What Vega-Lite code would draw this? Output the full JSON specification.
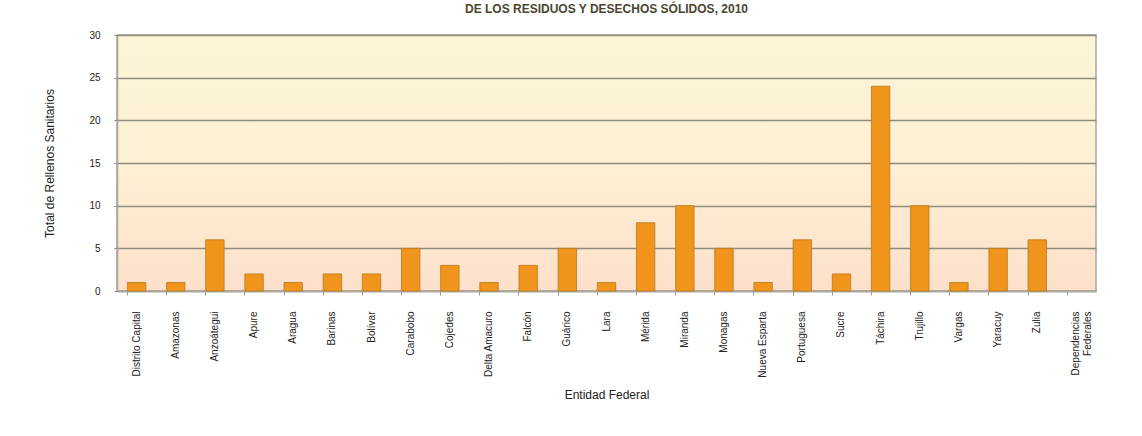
{
  "$schema": "https://vega.github.io/schema/vega-lite/v6.json",
  "width": 979,
  "height": 256,
  "autosize": {"type": "none"},
  "padding": {"left": 117, "top": 35, "right": 46, "bottom": 145},
  "background": "#ffffff",
  "title": {
    "text": "DE LOS RESIDUOS Y DESECHOS SÓLIDOS, 2010",
    "font": "Liberation Sans",
    "fontSize": 12,
    "fontWeight": "bold",
    "color": "#4a4630",
    "anchor": "middle",
    "offset": 14
  },
  "config": {
    "view": {
      "stroke": "#a9a79c",
      "strokeWidth": 1.5,
      "fill": {
        "gradient": "linear",
        "x1": 0, "y1": 0, "x2": 0, "y2": 1,
        "stops": [
          {"offset": 0, "color": "#fcf4d6"},
          {"offset": 0.5, "color": "#fdf0d4"},
          {"offset": 1, "color": "#fde0cb"}
        ]
      }
    },
    "axis": {
      "labelFont": "Liberation Sans",
      "titleFont": "Liberation Sans",
      "labelColor": "#222222",
      "titleColor": "#222222",
      "titleFontWeight": "normal"
    }
  },
  "data": {
    "values": [
      {"entidad": "Distrito Capital", "total": 1},
      {"entidad": "Amazonas", "total": 1},
      {"entidad": "Anzoátegui", "total": 6},
      {"entidad": "Apure", "total": 2},
      {"entidad": "Aragua", "total": 1},
      {"entidad": "Barinas", "total": 2},
      {"entidad": "Bolívar", "total": 2},
      {"entidad": "Carabobo", "total": 5},
      {"entidad": "Cojedes", "total": 3},
      {"entidad": "Delta Amacuro", "total": 1},
      {"entidad": "Falcón", "total": 3},
      {"entidad": "Guárico", "total": 5},
      {"entidad": "Lara", "total": 1},
      {"entidad": "Mérida", "total": 8},
      {"entidad": "Miranda", "total": 10},
      {"entidad": "Monagas", "total": 5},
      {"entidad": "Nueva Esparta", "total": 1},
      {"entidad": "Portuguesa", "total": 6},
      {"entidad": "Sucre", "total": 2},
      {"entidad": "Táchira", "total": 24},
      {"entidad": "Trujillo", "total": 10},
      {"entidad": "Vargas", "total": 1},
      {"entidad": "Yaracuy", "total": 5},
      {"entidad": "Zulia", "total": 6},
      {"entidad": "Dependencias Federales", "total": 0}
    ]
  },
  "mark": {
    "type": "bar",
    "color": "#f0941c",
    "stroke": "#b8781a",
    "strokeWidth": 0.8
  },
  "encoding": {
    "x": {
      "field": "entidad",
      "type": "nominal",
      "sort": null,
      "scale": {"paddingInner": 0.53, "paddingOuter": 0.265},
      "axis": {
        "title": "Entidad Federal",
        "titleFontSize": 12,
        "titlePadding": 12,
        "labelAngle": 270,
        "labelFontSize": 10,
        "labelPadding": 16,
        "labelExpr": "datum.label == 'Dependencias Federales' ? ['Dependencias', 'Federales'] : datum.label",
        "bandPosition": 0,
        "tickSize": 4,
        "tickColor": "#9a9a90",
        "domainColor": "#a9a79c",
        "domainWidth": 1.5,
        "labelLimit": 200
      }
    },
    "y": {
      "field": "total",
      "type": "quantitative",
      "scale": {"domain": [0, 30]},
      "axis": {
        "title": "Total de Rellenos Sanitarios",
        "titleFontSize": 12,
        "titlePadding": 32,
        "values": [0, 5, 10, 15, 20, 25, 30],
        "labelFontSize": 10,
        "labelPadding": 14,
        "tickSize": 3,
        "tickColor": "#8a8878",
        "domainColor": "#a9a79c",
        "domainWidth": 1.5,
        "grid": true,
        "gridColor": "#8e8c7c",
        "gridWidth": 1.6,
        "gridOpacity": 1
      }
    },
    "strokeOpacity": {
      "condition": {"test": "datum.total == 0", "value": 0},
      "value": 1
    }
  }
}
